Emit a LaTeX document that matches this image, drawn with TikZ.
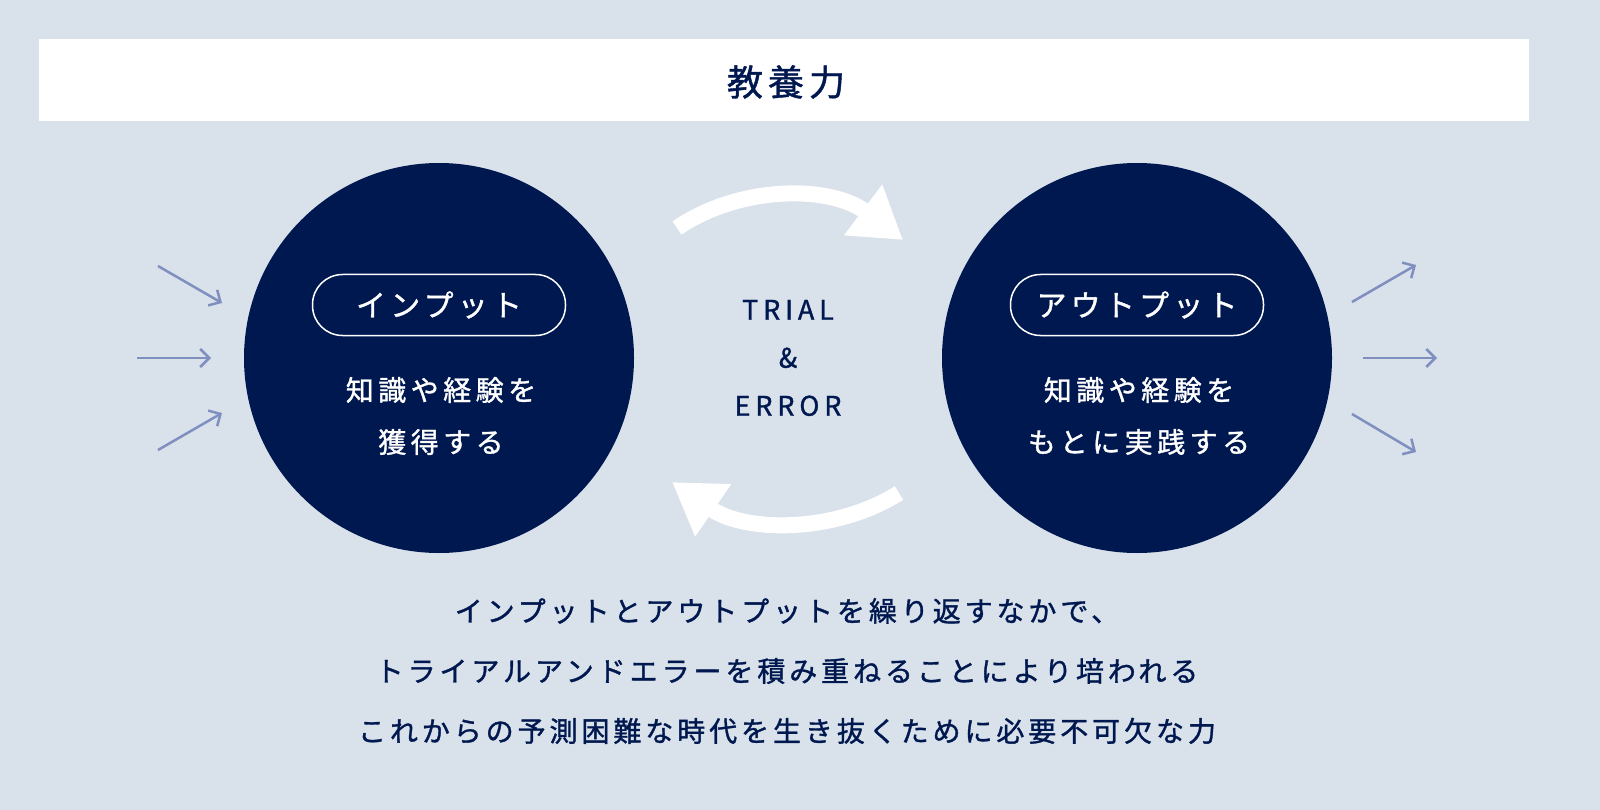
\documentclass[tikz,border=0pt]{standalone}
\usepackage{fontspec}
\setmainfont{Noto Sans CJK JP}[BoldFont={Noto Sans CJK JP},BoldFeatures={FakeBold=1.2}]
\usetikzlibrary{arrows.meta,positioning}
\definecolor{bgblue}{HTML}{D9E1EA}
\definecolor{navy}{HTML}{001850}
\definecolor{pale}{HTML}{7F8FC0}
\begin{document}
\begin{tikzpicture}[x=1pt,y=-1pt,>=Latex]
  \tikzset{
    ball/.style={circle,fill=navy,minimum size=390pt,inner sep=0pt},
    pill/.style={draw=white,line width=1.5pt,rounded corners=30pt,minimum width=253pt,minimum height=61pt,text=white,font=\bfseries\fontsize{30}{30}\selectfont\addfontfeatures{LetterSpace=14}},
    note/.style={text=white,align=center,font=\bfseries\fontsize{28}{52}\selectfont\addfontfeatures{LetterSpace=16}},
    swing/.style={white,line width=16pt,-{Triangle[width=60pt,length=50pt]}},
    feed/.style={pale,line width=2.5pt,-{Straight Barb[length=9pt,width=18pt]}},
  }
  % Config
  \fill[bgblue] (0,0) rectangle (1600,810);
  \useasboundingbox (0,0) rectangle (1600,810);

  % title bar
  \fill[white] (39,39) rectangle (1529,121);
  \node[text=navy,font=\bfseries\fontsize{36}{36}\selectfont\addfontfeatures{LetterSpace=14}] (title) at (786,82) {教養力};

  % circles
  \node[ball] (input) at (439,358) {};
  \node[ball] (output) at (1137,358) {};
  \node[pill] (inlabel) at (439,305) {インプット};
  \node[pill] (outlabel) at (1137,305) {アウトプット};
  \node[note] (intext) at (441,416) {知識や経験を\\獲得する};
  \node[note] (outtext) at (1139,416) {知識や経験を\\もとに実践する};

  % trial and error
  \node[text=navy,align=center,font=\bfseries\fontsize{27}{48}\selectfont\addfontfeatures{LetterSpace=18}] (trial) at (788,358) {TRIAL\\\&\\ERROR};
  \coordinate (ta) at (677,228);
  \coordinate (tb) at (903,240);
  \coordinate (ba) at (899,493);
  \coordinate (bb) at (672,482);
  \draw[swing] (ta) .. controls (740,185) and (830,185) .. (tb);
  \draw[swing] (ba) .. controls (836,533) and (746,533) .. (bb);

  % side arrows
  \foreach \n/\a/\b in {l1/{158,266}/{222,303},l2/{137,358}/{211,358},l3/{158,450}/{222,413},
                        r1/{1352,302}/{1416,265},r2/{1363,358}/{1437,358},r3/{1352,414}/{1416,452}} {
    \coordinate (\n s) at (\a);
    \coordinate (\n e) at (\b);
    \draw[feed] (\n s) -- (\n e);
  }

  % summary
  \node[text=navy,align=center,font=\bfseries\fontsize{28}{60}\selectfont\addfontfeatures{LetterSpace=14}] (summary) at (787,671)
    {インプットとアウトプットを繰り返すなかで、\\トライアルアンドエラーを積み重ねることにより培われる\\これからの予測困難な時代を生き抜くために必要不可欠な力};
\end{tikzpicture}
\end{document}
